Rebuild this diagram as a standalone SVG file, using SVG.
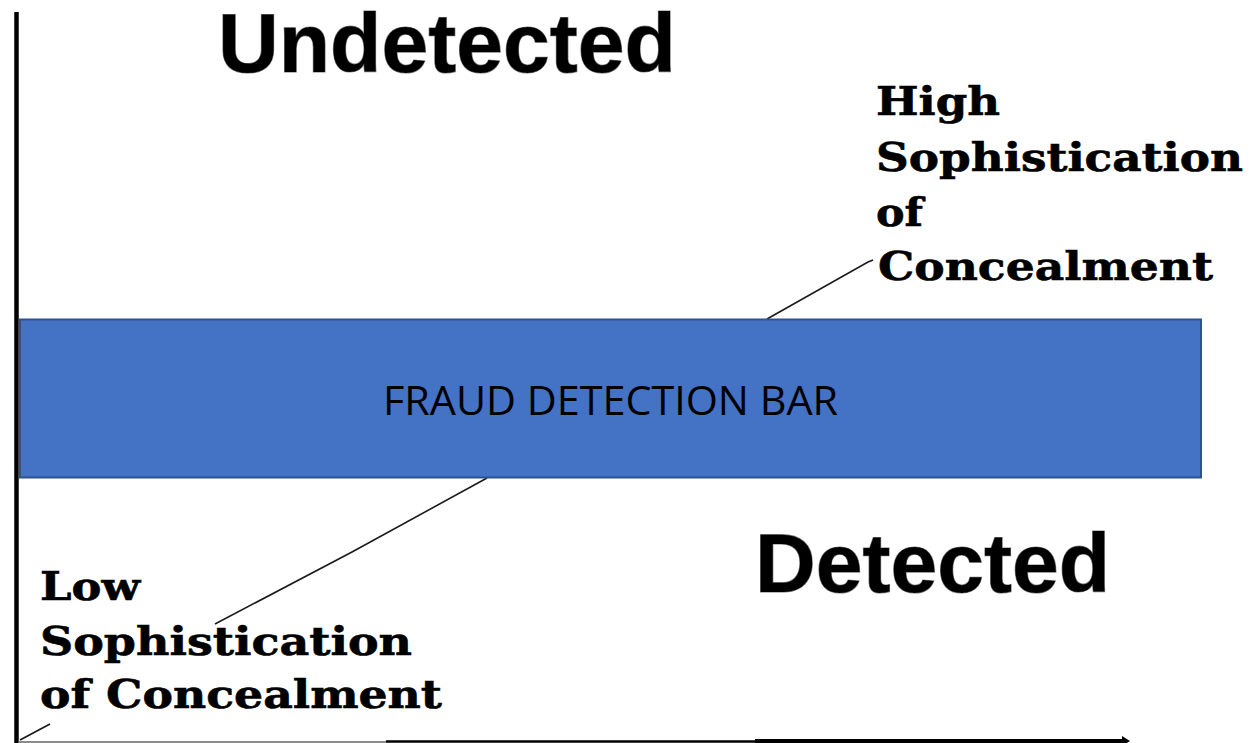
<svg xmlns="http://www.w3.org/2000/svg" width="1255" height="743" viewBox="0 0 1255 743">
<style>
.big{font-family:"Liberation Sans",Arial,sans-serif;font-weight:bold;font-size:84px;fill:#000;stroke:#808080;stroke-width:1.2px;paint-order:stroke}
.ser{font-family:"DejaVu Serif","Liberation Serif",serif;font-weight:bold;font-size:40px;fill:#000;stroke:#000;stroke-width:0.6px}
.bar{font-family:"Open Sans","Noto Sans","Liberation Sans",sans-serif;font-size:41px;fill:#000}
.diag{stroke:#1a1a1a;stroke-width:1.6;fill:none}
</style>
<rect width="1255" height="743" fill="#fff"/>
<g id="connectors">
<line x1="16.5" y1="12" x2="16.5" y2="743" stroke="#000" stroke-width="4.5"/>
<line x1="18" y1="742" x2="386" y2="742" stroke="#666" stroke-width="1.5"/>
<line x1="386" y1="741.5" x2="756" y2="741.5" stroke="#000" stroke-width="2.5"/>
<line x1="755" y1="741" x2="1124" y2="741" stroke="#000" stroke-width="4"/>
<polygon points="1122,736 1130,741 1122,746" fill="#000"/>
<polyline class="diag" points="20,740 50,724"/>
<polyline class="diag" points="215,624 352,552 487,478"/>
<polyline class="diag" points="767,319 868,262 873,260"/>
</g>
<g id="bar">
<rect x="20" y="319.5" width="1181" height="158" fill="#4472C4" stroke="#2F528F" stroke-width="2"/>
<text class="bar" x="610.5" y="415" text-anchor="middle" textLength="455" lengthAdjust="spacingAndGlyphs">FRAUD DETECTION BAR</text>
</g>
<g id="undetected">
<text class="big" x="218" y="72" textLength="458" lengthAdjust="spacingAndGlyphs">Undetected</text>
</g>
<g id="detected">
<text class="big" x="755" y="592" textLength="355" lengthAdjust="spacingAndGlyphs">Detected</text>
</g>
<g id="high">
<text class="ser" x="876" y="115" textLength="124" lengthAdjust="spacingAndGlyphs">High</text>
<text class="ser" x="876" y="171" textLength="367" lengthAdjust="spacingAndGlyphs">Sophistication</text>
<text class="ser" x="876" y="226" textLength="47" lengthAdjust="spacingAndGlyphs">of</text>
<text class="ser" x="878" y="280" textLength="335" lengthAdjust="spacingAndGlyphs">Concealment</text>
</g>
<g id="low">
<text class="ser" x="40" y="600" textLength="100" lengthAdjust="spacingAndGlyphs">Low</text>
<text class="ser" x="40" y="655" textLength="372" lengthAdjust="spacingAndGlyphs">Sophistication</text>
<text class="ser" x="40" y="708" textLength="402" lengthAdjust="spacingAndGlyphs">of Concealment</text>
</g>
</svg>
